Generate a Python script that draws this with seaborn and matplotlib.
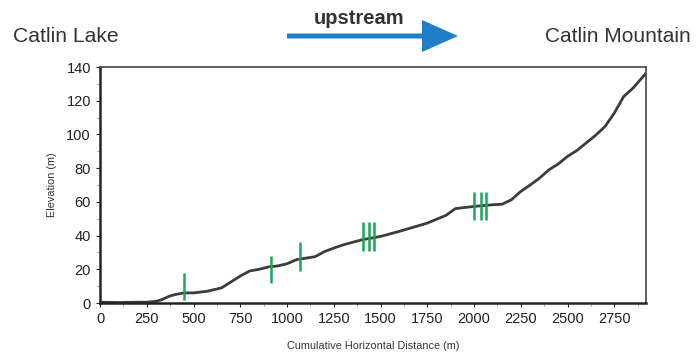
import matplotlib
matplotlib.use("Agg")
import matplotlib.pyplot as plt
import seaborn as sns
import pandas as pd
from matplotlib.ticker import MultipleLocator
from matplotlib.patches import FancyArrow

# Profile data (cumulative horizontal distance in m, elevation in m)
distance = [0, 100, 200, 250, 300, 330, 370, 400, 450, 500, 575, 650, 700, 750, 800, 850,
            900, 950, 1000, 1050, 1100, 1150, 1200, 1250, 1300, 1350, 1400, 1450, 1500,
            1600, 1750, 1850, 1900, 2000, 2100, 2150, 2200, 2250, 2300, 2350, 2400, 2450,
            2500, 2550, 2600, 2650, 2700, 2750, 2800, 2850, 2920]
elevation = [0.5, 0.3, 0.5, 0.5, 1.0, 2.0, 4.0, 5.0, 6.0, 6.0, 7.0, 9.0, 12.5, 16.0, 19.0, 20.0,
             21.4, 22.0, 23.3, 25.7, 26.6, 27.5, 30.5, 32.6, 34.5, 36.0, 37.5, 38.5, 39.5,
             42.5, 47.4, 52.0, 56.0, 57.3, 58.3, 58.6, 61.3, 66.2, 70.0, 74.1, 79.0, 82.5,
             87.0, 90.5, 95.0, 99.5, 104.7, 112.7, 122.5, 127.5, 136.4]

# Green site markers (distance, bottom, top)
marker_x = [450, 915, 1067, 1406, 1436, 1467, 2002, 2038, 2063]
marker_lo = [2, 12, 19, 31, 31, 31, 49, 49, 49]
marker_hi = [18, 28, 36, 48, 48, 48, 66, 66, 66]

x_ticks = [0, 250, 500, 750, 1000, 1250, 1500, 1750, 2000, 2250, 2500, 2750]
y_ticks = [0, 20, 40, 60, 80, 100, 120, 140]

sns.set_style("ticks")
plt.rcParams['font.family'] = ['Liberation Sans', 'DejaVu Sans']

fig = plt.figure(figsize=(6.97, 3.54), dpi=100)
ax = fig.add_axes([0.1435, 0.144, 0.7835, 0.6667])

df = pd.DataFrame({"Distance": distance, "Elevation": elevation})
sns.lineplot(data=df, x="Distance", y="Elevation", ax=ax, color="#3c3c3c", linewidth=2.0)

ax.vlines(marker_x, marker_lo, marker_hi, colors="#1aa65a", linewidth=1.8, zorder=3)

ax.set_xlim(0, 2920)
ax.set_ylim(0, 140)
ax.set_xticks(x_ticks)
ax.set_yticks(y_ticks)
ax.yaxis.set_minor_locator(MultipleLocator(10))
ax.xaxis.set_minor_locator(MultipleLocator(125))
ax.tick_params(axis="both", which="major", labelsize=10.5, length=3, width=0.8, colors="#222222")
ax.tick_params(axis="both", which="minor", length=2, width=0.6, colors="#888888")
ax.set_xlabel("Cumulative Horizontal Distance (m)", fontsize=7.8, labelpad=11, color="#333333")
ax.set_ylabel("Elevation (m)", fontsize=7.8, labelpad=7, color="#333333")

for s in ["left", "bottom"]:
    ax.spines[s].set_linewidth(1.8)
    ax.spines[s].set_color("#222222")
for s in ["top", "right"]:
    ax.spines[s].set_visible(True)
    ax.spines[s].set_linewidth(1.2)
    ax.spines[s].set_color("#444444")

fig.text(13 / 697, 1 - 36 / 354, "Catlin Lake", fontsize=15.2, ha="left", va="center", color="#333333")
fig.text(691 / 697, 1 - 36 / 354, "Catlin Mountain", fontsize=15, ha="right", va="center", color="#333333")
fig.text(359 / 697, 1 - 19 / 354, "upstream", fontsize=14.5, fontweight="bold", ha="center", va="center", color="#333333")

arrow = FancyArrow(287 / 697, 1 - 36 / 354, (458 - 287) / 697, 0, width=5 / 354,
                   head_width=32 / 354, head_length=36 / 697, length_includes_head=True,
                   transform=fig.transFigure, color="#1f7ec8", linewidth=0)
fig.patches.append(arrow)

fig.savefig("out.png", dpi=100)
